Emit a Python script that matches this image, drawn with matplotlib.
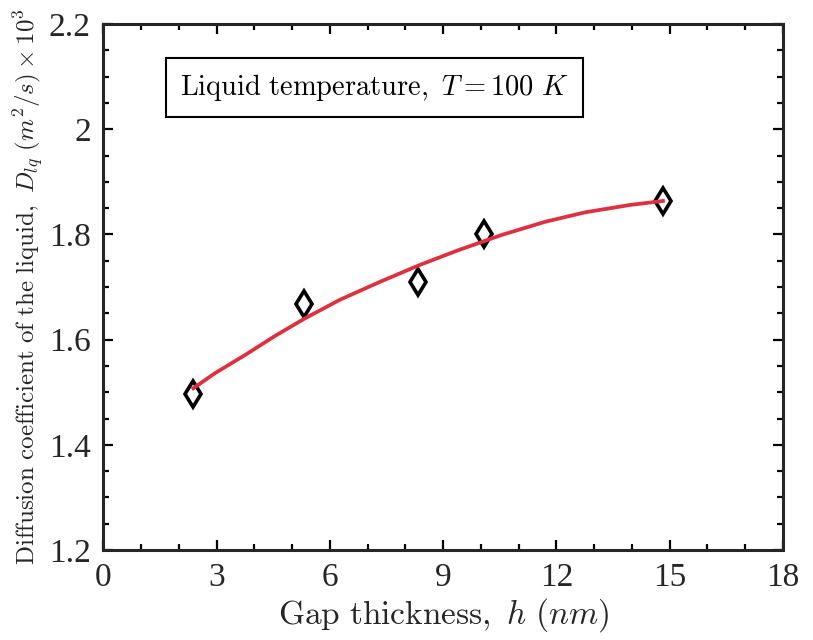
import matplotlib
matplotlib.use("Agg")
import matplotlib.pyplot as plt
from matplotlib.ticker import MultipleLocator

# measured data (gap thickness in nm, diffusion coefficient x 1e3)
gap_nm = [2.37, 5.32, 8.34, 10.08, 14.83]
diff_coef = [1.497, 1.667, 1.710, 1.801, 1.864]

# fitted curve
fit_x = [2.34, 2.95, 3.75, 4.54, 5.34, 6.27, 7.33, 8.38, 9.40, 10.55,
         11.70, 12.76, 13.95, 14.87]
fit_y = [1.5055, 1.536, 1.5707, 1.6068, 1.6405, 1.676, 1.710, 1.742, 1.770,
         1.799, 1.824, 1.842, 1.856, 1.864]

x_ticks = [0, 3, 6, 9, 12, 15, 18]
y_ticks = [1.2, 1.4, 1.6, 1.8, 2.0, 2.2]
y_tick_labels = ["1.2", "1.4", "1.6", "1.8", "2", "2.2"]

plt.rcParams['mathtext.fontset'] = 'cm'

fig = plt.figure(figsize=(8.13, 6.4), dpi=100)
ax = fig.add_axes([0.1273, 0.1406, 0.8358, 0.8219])

ax.plot(gap_nm, diff_coef, linestyle='none', marker='d', markersize=13,
        markerfacecolor='none', markeredgecolor='black', markeredgewidth=2.6,
        zorder=3)
ax.plot(fit_x, fit_y, color='#DC3240', linewidth=2.7, zorder=4,
        solid_capstyle='butt', solid_joinstyle='round')

ax.set_xlim(0, 18)
ax.set_ylim(1.2, 2.2)
ax.set_xticks(x_ticks)
ax.set_yticks(y_ticks)
ax.set_yticklabels(y_tick_labels)
ax.xaxis.set_minor_locator(MultipleLocator(1))
ax.yaxis.set_minor_locator(MultipleLocator(0.05))

# MATLAB-like boxed axes with inward ticks on all sides
ax.tick_params(which='both', direction='in', top=True, right=True, width=1.6)
ax.tick_params(which='major', length=7, pad=9)
ax.tick_params(which='minor', length=4)
for lbl in ax.get_xticklabels() + ax.get_yticklabels():
    lbl.set_fontfamily('Liberation Serif')
    lbl.set_fontsize(24)
    lbl.set_color('#262626')
for sp in ax.spines.values():
    sp.set_linewidth(2.2)
    sp.set_color('#262626')

ax.set_xlabel(r"$\mathrm{Gap\ thickness,}\ h\ (nm)$",
              fontsize=24, labelpad=2, color='#262626')
ax.set_ylabel(r"$\mathrm{Diffusion\ coefficient\ of\ the\ liquid,}\ D_{lq}\ (m^2/s)\times10^3$",
              fontsize=18, labelpad=2, color='#262626')

ax.text(0.1125, 0.879, r"$\mathrm{Liquid\ temperature,}\ T = 100\ K$",
        transform=ax.transAxes, fontsize=20.5, va='center', ha='left',
        bbox=dict(boxstyle='square,pad=0.5', facecolor='white',
                  edgecolor='black', linewidth=1.5))

fig.savefig("out.png", dpi=100)
